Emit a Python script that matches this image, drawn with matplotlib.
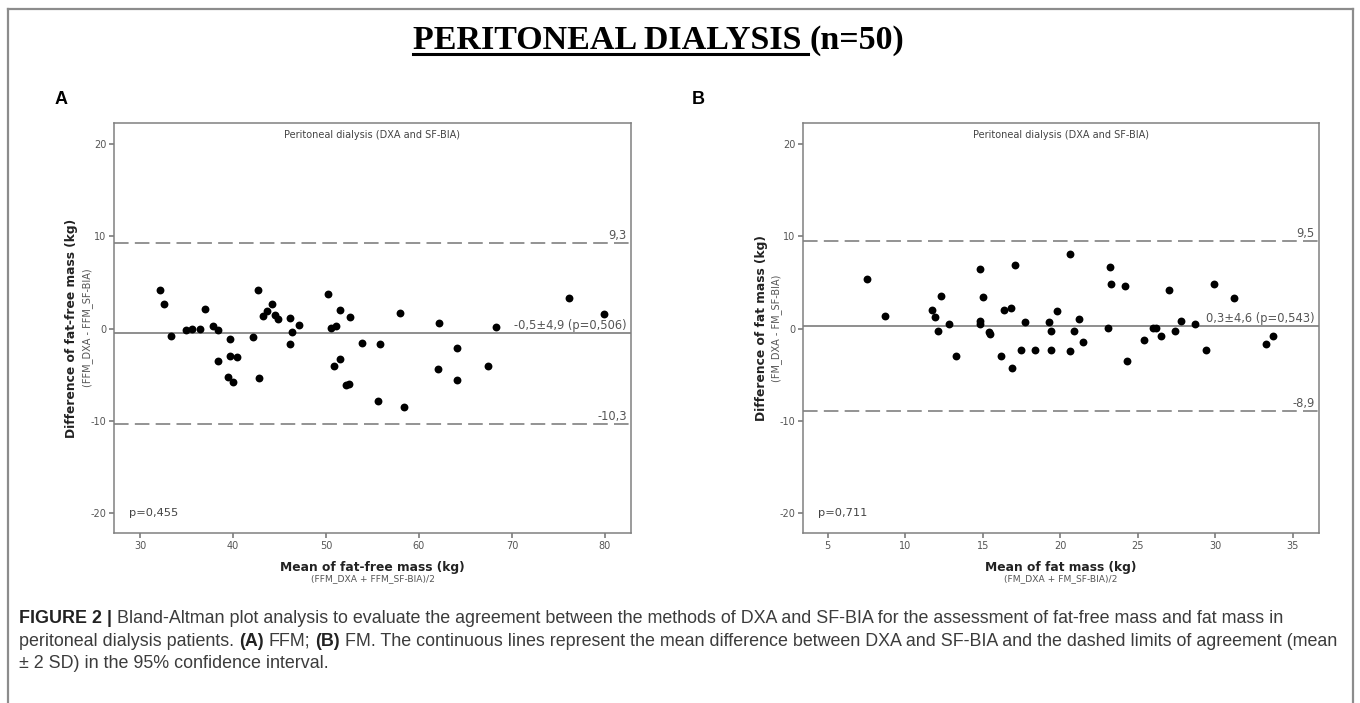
import numpy as np
import matplotlib.pyplot as plt

plt.rcParams['axes.unicode_minus'] = False
plt.rcParams['lines.scale_dashes'] = False

W, H = 1360, 703

# ---- Panel A: fat-free mass (kg) ----
ffm_mean = [32.1, 32.6, 33.3, 34.9, 35.6, 36.4, 37.0, 37.8, 38.4, 38.4,
            39.7, 39.5, 39.7, 40.0, 40.4, 42.2, 42.7, 42.8, 43.2, 43.7,
            44.2, 44.5, 44.8, 46.1, 46.1, 46.3, 47.1, 50.2, 50.5, 50.9,
            51.1, 51.5, 51.5, 52.1, 52.5, 52.6, 53.9, 55.6, 55.8, 58.0,
            58.4, 62.0, 62.1, 64.1, 64.1, 67.4, 68.3, 76.1, 79.9]
ffm_diff = [4.2, 2.7, -0.8, -0.1, 0.0, 0.0, 2.1, 0.3, -0.1, -3.5,
            -1.1, -5.2, -3.0, -5.8, -3.1, -0.9, 4.2, -5.3, 1.4, 1.9,
            2.7, 1.5, 1.1, 1.2, -1.7, -0.4, 0.4, 3.8, 0.1, -4.0,
            0.3, 2.0, -3.3, -6.1, -6.0, 1.3, -1.6, -7.8, -1.7, 1.7,
            -8.5, -4.4, 0.6, -2.1, -5.6, -4.0, 0.2, 3.3, 1.6]
ffm_bias, ffm_upper, ffm_lower = -0.5, 9.3, -10.3
ffm_xticks = [30, 40, 50, 60, 70, 80]

# ---- Panel B: fat mass (kg) ----
fm_mean = [7.5, 8.7, 11.7, 11.9, 12.1, 12.3, 12.8, 13.3, 14.8, 14.8,
           14.8, 15.0, 15.4, 15.5, 16.2, 16.4, 16.8, 16.9, 17.1, 17.5,
           17.7, 18.4, 19.3, 19.4, 19.4, 19.8, 20.6, 20.6, 20.9, 21.2,
           21.5, 23.1, 23.2, 23.3, 24.2, 24.3, 25.4, 26.0, 26.2, 26.5,
           27.0, 27.4, 27.8, 28.7, 29.4, 29.9, 31.2, 33.3, 33.7]
fm_diff = [5.4, 1.4, 2.0, 1.3, -0.3, 3.5, 0.5, -3.0, 6.5, 0.8,
           0.5, 3.4, -0.4, -0.6, -3.0, 2.0, 2.2, -4.3, 6.9, -2.3,
           0.7, -2.3, 0.7, -0.2, -2.3, 1.9, 8.1, -2.4, -0.3, 1.1,
           -1.4, 0.1, 6.7, 4.8, 4.6, -3.5, -1.2, 0.1, 0.1, -0.8,
           4.2, -0.2, 0.8, 0.5, -2.3, 4.8, 3.3, -1.7, -0.8]
fm_bias, fm_upper, fm_lower = 0.3, 9.5, -8.9
fm_xticks = [5, 10, 15, 20, 25, 30, 35]

yticks = [-20, -10, 0, 10, 20]

fig = plt.figure(figsize=(W / 100, H / 100), dpi=100)
fig.patch.set_facecolor('white')


def fx(px):
    return px / W


def fy(py):
    return 1 - py / H


# outer frame (open at the bottom)
frame = dict(color='#8c8c8c', lw=1.6, transform=fig.transFigure)
fig.add_artist(plt.Line2D([fx(8), fx(8)], [fy(9), fy(710)], **frame))
fig.add_artist(plt.Line2D([fx(8), fx(1353)], [fy(9), fy(9)], **frame))
fig.add_artist(plt.Line2D([fx(1353), fx(1353)], [fy(9), fy(710)], **frame))

# title, underlined first part
renderer = fig.canvas.get_renderer()
title_font = dict(family='Liberation Serif', fontweight='bold', fontsize=24.5,
                  color='black', va='baseline')
t1 = fig.text(fx(413), fy(49), 'PERITONEAL DIALYSIS', **title_font)
w1 = t1.get_window_extent(renderer).width
fig.text(fx(413 + w1 + 8), fy(49), '(n=50)', **title_font)
fig.add_artist(plt.Line2D([fx(413), fx(413 + w1 + 6)], [fy(54), fy(54)],
                          color='black', lw=2.2, transform=fig.transFigure))

fig.text(fx(55), fy(99), 'A', family='Liberation Sans', fontweight='bold',
         fontsize=13, va='center')
fig.text(fx(692), fy(99), 'B', family='Liberation Sans', fontweight='bold',
         fontsize=13, va='center')


def panel(left, right, x, d, bias, upper, lower, xlim, xticks,
          bias_txt, up_txt, lo_txt, p_txt, ylab, ysub, xlab, xsub):
    top, bottom = 123, 533
    ax = fig.add_axes([fx(left), fy(bottom), fx(right - left), (bottom - top) / H])
    ax.scatter(x, d, s=32, c='black', linewidths=0, zorder=3)
    ax.axhline(bias, color='#707070', lw=1.1, zorder=2)
    for v in (upper, lower):
        ax.axhline(v, color='#8a8a8a', lw=1.3, dashes=(10.5, 4.5), zorder=2)
    ax.set_xlim(*xlim)
    ax.set_ylim(-22.15, 22.3)
    ax.set_xticks(xticks)
    ax.set_yticks(yticks)
    for s in ax.spines.values():
        s.set_color('#808080')
        s.set_linewidth(1.1)
    ax.tick_params(direction='out', length=3.8, width=1.1, color='#707070',
                   labelcolor='#555555', labelsize=7.0, pad=1.8)
    tr = ax.get_yaxis_transform()
    lab = dict(fontsize=8.3, color='#555555', ha='right', va='bottom')
    ax.text(0.992, upper + 0.12, up_txt, transform=tr, **lab)
    ax.text(0.992, lower + 0.12, lo_txt, transform=tr, **lab)
    ax.text(0.992, bias + 0.12, bias_txt, transform=tr, **lab)
    ax.text(0.029, -20, p_txt, transform=tr, fontsize=8.2, color='#444444',
            ha='left', va='center')
    ax.text(0.5, 0.971, 'Peritoneal dialysis (DXA and SF-BIA)',
            transform=ax.transAxes, fontsize=7.0, color='#444444',
            ha='center', va='center')
    cy = (top + bottom) / 2
    fig.text(fx(left - 42), fy(cy), ylab, rotation=90, fontsize=8.8,
             fontweight='bold', color='#222222', ha='center', va='center')
    fig.text(fx(left - 26), fy(cy), ysub, rotation=90, fontsize=7.0,
             color='#555555', ha='center', va='center')
    cx = (left + right) / 2
    fig.text(fx(cx), fy(567), xlab, fontsize=8.8, fontweight='bold',
             color='#222222', ha='center', va='center')
    fig.text(fx(cx), fy(579), xsub, fontsize=6.6, color='#555555',
             ha='center', va='center')
    return ax


panel(114, 631, ffm_mean, ffm_diff, ffm_bias, ffm_upper, ffm_lower,
      (27.2, 82.8), ffm_xticks, '-0,5\u00b14,9 (p=0,506)', '9,3', '-10,3',
      'p=0,455', 'Difference of fat-free mass (kg)', '(FFM_DXA - FFM_SF-BIA)',
      'Mean of fat-free mass (kg)', '(FFM_DXA + FFM_SF-BIA)/2')
panel(803, 1319, fm_mean, fm_diff, fm_bias, fm_upper, fm_lower,
      (3.4, 36.7), fm_xticks, '0,3\u00b14,6 (p=0,543)', '9,5', '-8,9',
      'p=0,711', 'Difference of fat mass (kg)', '(FM_DXA - FM_SF-BIA)',
      'Mean of fat mass (kg)', '(FM_DXA + FM_SF-BIA)/2')

# caption with bold runs
cap = dict(family='Liberation Sans', fontsize=12.9, va='baseline')
space_w = (fig.text(0, 0, 'x x', **cap).get_window_extent(renderer).width
           - fig.text(0, 0, 'xx', **cap).get_window_extent(renderer).width)
for t in fig.texts[-2:]:
    t.remove()


def caption_line(y, runs):
    x = 19
    for s, bold in runs:
        if s == ' ':
            x += space_w
            continue
        t = fig.text(fx(x), fy(y), s, fontweight='bold' if bold else 'normal',
                     color='#222222' if bold else '#3c3c3c', **cap)
        x += t.get_window_extent(renderer).width


caption_line(623, [('FIGURE 2 |', True), (' ', False),
                   ('Bland-Altman plot analysis to evaluate the agreement between the '
                    'methods of DXA and SF-BIA for the assessment of fat-free mass and '
                    'fat mass in', False)])
caption_line(646, [('peritoneal dialysis patients.', False), (' ', False),
                   ('(A)', True), (' ', False), ('FFM;', False), (' ', False),
                   ('(B)', True), (' ', False),
                   ('FM. The continuous lines represent the mean difference between DXA '
                    'and SF-BIA and the dashed limits of agreement (mean', False)])
caption_line(668, [('\u00b1 2 SD) in the 95% confidence interval.', False)])

fig.savefig('out.png', dpi=100, facecolor='white')
